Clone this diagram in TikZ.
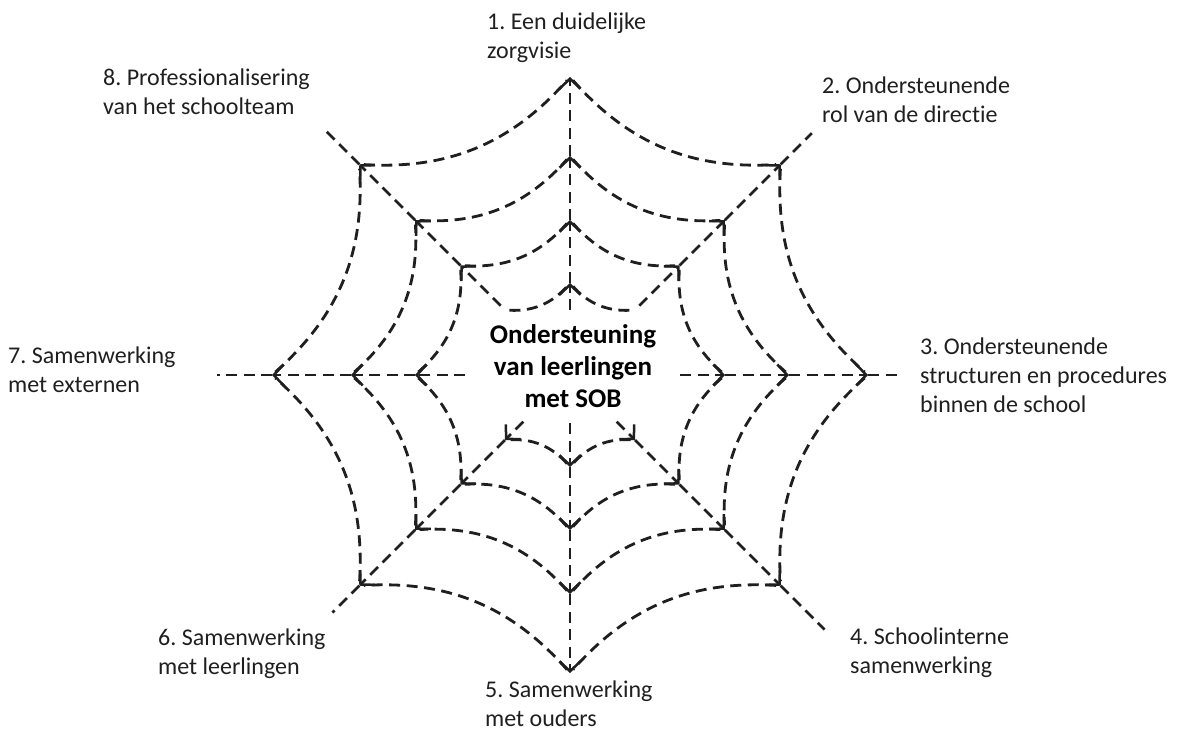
\documentclass[tikz,border=0pt]{standalone}
\usepackage{fontspec}
\setmainfont{Carlito}[Ligatures=NoCommon]
\usetikzlibrary{arrows.meta,calc}
\frenchspacing
\begin{document}
\begin{tikzpicture}[x=1pt,y=-1pt,
  web/.style={line width=2.8pt, dash pattern=on 11pt off 6.5pt, black!88},
  arc/.style={web, shorten <=4.5pt, shorten >=4.5pt},
  spoke/.style={web, -{Straight Barb[length=10pt,width=21pt,line width=2.5pt]}},
  lbl/.style={anchor=base west, inner sep=0pt, text=black!88,
    font=\fontsize{24}{29}\selectfont},
  ctr/.style={anchor=base, inner sep=0pt, text=black,
    font=\fontsize{27}{32}\selectfont\bfseries},
]
\useasboundingbox (0,0) rectangle (1181,736);
\coordinate (C) at (570,375);

% vertices of the web
\foreach \d/\a in {t/270, tr/315, r/0, br/45, b/90, bl/135, l/180, tl/225}{
  \foreach \k/\rr in {1/92, 2/155, 3/219, 4/298}{
    \coordinate (v\k\d) at ($(C)+(\a:\rr)$);
  }
}

% spoke start and end points
\coordinate (st)  at ($(C)+(270:65)$);
\coordinate (str) at ($(C)+(315:98)$);
\coordinate (sr)  at ($(C)+(0:110)$);
\coordinate (sbr) at ($(C)+(45:66)$);
\coordinate (sb)  at ($(C)+(90:48)$);
\coordinate (sbl) at ($(C)+(135:66)$);
\coordinate (sl)  at ($(C)+(180:105)$);
\coordinate (stl) at ($(C)+(225:98)$);

\coordinate (etr) at ($(C)+(315:342)$);
\coordinate (er)  at ($(C)+(0:330)$);
\coordinate (ebr) at ($(C)+(45:360)$);
\coordinate (ebl) at ($(C)+(135:336)$);
\coordinate (el)  at ($(C)+(180:353)$);
\coordinate (etl) at ($(C)+(225:346)$);

% rings 2-4
\foreach \k in {2,3,4}{
  \foreach \p/\q in {t/tr, tr/r, r/br, br/b, b/bl, bl/l, l/tl, tl/t}{
    \draw[arc] (v\k\p) to[bend right=26] (v\k\q);
  }
}
% ring 1 (partial)
\foreach \p/\q in {tl/t, t/tr, br/b, b/bl}{
  \draw[arc] (v1\p) to[bend right=26] (v1\q);
}

% spokes
\draw[spoke] (st) -- (v1t);
\foreach \d in {t, b, bl, br}{
  \draw[spoke] (v1\d) -- (v2\d);
}
\draw[spoke] (sb) -- (v1b);
\draw[spoke] (sbl) -- (v1bl);
\draw[spoke] (sbr) -- (v1br);
\draw[spoke] (str) -- (v2tr);
\draw[spoke] (stl) -- (v2tl);
\draw[spoke] (sr) -- (v2r);
\draw[spoke] (sl) -- (v2l);
\foreach \d in {t, tr, r, br, b, bl, l, tl}{
  \draw[spoke] (v2\d) -- (v3\d);
  \draw[spoke] (v3\d) -- (v4\d);
}
\foreach \d in {tr, r, br, bl, l, tl}{
  \draw[web] (v4\d) -- (e\d);
}

% labels
\node[lbl] (L1) at (487,29)  {\begin{tabular}[t]{@{}l@{}}1. Een duidelijke\\ zorgvisie\end{tabular}};
\node[lbl] (L2) at (822,93)  {\begin{tabular}[t]{@{}l@{}}2. Ondersteunende\\ rol van de directie\end{tabular}};
\node[lbl] (L3) at (920,354) {\begin{tabular}[t]{@{}l@{}}3. Ondersteunende\\ structuren en procedures\\ binnen de school\end{tabular}};
\node[lbl] (L4) at (850,644) {\begin{tabular}[t]{@{}l@{}}4. Schoolinterne\\ samenwerking\end{tabular}};
\node[lbl] (L5) at (485,697) {\begin{tabular}[t]{@{}l@{}}5. Samenwerking\\ met ouders\end{tabular}};
\node[lbl] (L6) at (158,645) {\begin{tabular}[t]{@{}l@{}}6. Samenwerking\\ met leerlingen\end{tabular}};
\node[lbl] (L7) at (8,363)   {\begin{tabular}[t]{@{}l@{}}7. Samenwerking\\ met externen\end{tabular}};
\node[lbl] (L8) at (103,85)  {\begin{tabular}[t]{@{}l@{}}8. Professionalisering\\ van het schoolteam\end{tabular}};

\node[ctr] (mid) at (573,343) {\begin{tabular}[t]{@{}c@{}}Ondersteuning\\ van leerlingen\\ met SOB\end{tabular}};
\end{tikzpicture}
\end{document}
